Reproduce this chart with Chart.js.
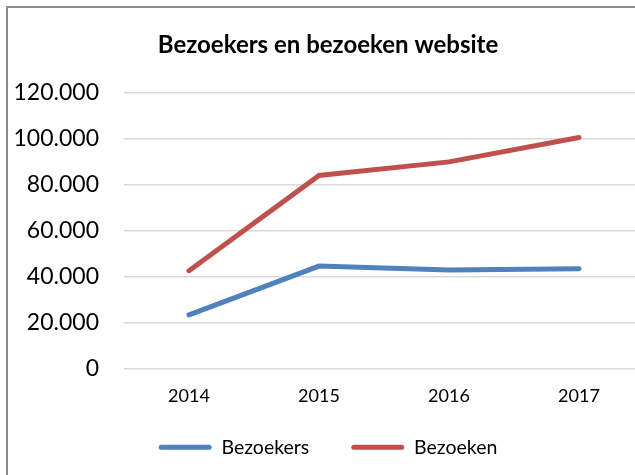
<!DOCTYPE html>
<html>
<head>
<meta charset="utf-8">
<script src="https://cdn.jsdelivr.net/npm/chart.js@4"></script>
<style>
  html, body { margin: 0; padding: 0; background: #fff; overflow: hidden; }
  #frame {
    position: absolute; left: 6px; top: 6px;
    border-left: 2px solid #8c8c8c; border-top: 2px solid #8c8c8c;
    width: 650px; height: 480px;
  }
  #chart { display: block; }
</style>
</head>
<body>
<div id="frame"><canvas id="chart" width="650" height="480"></canvas></div>
<script>
// chart values
const years = ['2014', '2015', '2016', '2017'];
const bezoekers = [23300, 44500, 42800, 43400];
const bezoeken = [42500, 83900, 89800, 100400];
const seriesNames = ['Bezoekers', 'Bezoeken'];
const chartTitle = 'Bezoekers en bezoeken website';

function formatThousands(value) {
  return String(value).replace(/\B(?=(\d{3})+(?!\d))/g, '.');
}

const fontName = 'Lato, "Open Sans", sans-serif';

new Chart(document.querySelector('#chart'), {
  type: 'line',
  data: {
    labels: years,
    datasets: [{
      label: seriesNames[0],
      data: bezoekers,
      borderColor: '#4f81bd',
      backgroundColor: '#4f81bd',
      borderWidth: 5,
      borderCapStyle: 'round',
      pointRadius: 0,
      tension: 0
    },
    {
      label: seriesNames[1],
      data: bezoeken,
      borderColor: '#c0504d',
      backgroundColor: '#c0504d',
      borderWidth: 5,
      borderCapStyle: 'round',
      pointRadius: 0,
      tension: 0
    }]
  },
  options: {
    responsive: false,
    animation: false,
    layout: {
      padding: { left: 4, right: 14, top: 0, bottom: 21 }
    },
    scales: {
      x: {
        offset: true,
        grid: { display: false, drawTicks: false },
        border: { display: false },
        ticks: {
          mirror: true, // labels are not clipped to the (short) axis box
          padding: -38.8,
          color: '#000',
          font: { family: fontName, size: 18 }
        },
        afterFit: function(scale) {
          scale.height = 27;
        }
      },
      y: {
        min: 0,
        max: 120000,
        grid: { color: '#d9d9d9', lineWidth: 1.5, drawTicks: false },
        border: { display: false },
        ticks: {
          stepSize: 20000,
          padding: 25,
          color: '#000',
          font: { family: fontName, size: 23 },
          callback: function(value) {
            return formatThousands(value);
          }
        },
        afterFit: function(scale) {
          scale.width = 112;
        }
      }
    },
    plugins: {
      title: {
        display: true,
        text: chartTitle,
        color: '#000',
        font: { family: fontName, size: 24, weight: 'bold' },
        padding: { top: 23, bottom: 32.6 }
      },
      legend: {
        display: true,
        position: 'bottom',
        labels: {
          color: '#000',
          boxWidth: 53,
          boxHeight: 5,
          padding: 42,
          useBorderRadius: true,
          borderRadius: 2.5,
          font: { family: fontName, size: 19.5 },
          generateLabels: function(chart) {
            const items = Chart.defaults.plugins.legend.labels.generateLabels(chart);
            items.forEach(item => { item.lineWidth = 0; });
            return items;
          }
        }
      },
      tooltip: { enabled: false }
    }
  }
});
</script>
</body>
</html>
